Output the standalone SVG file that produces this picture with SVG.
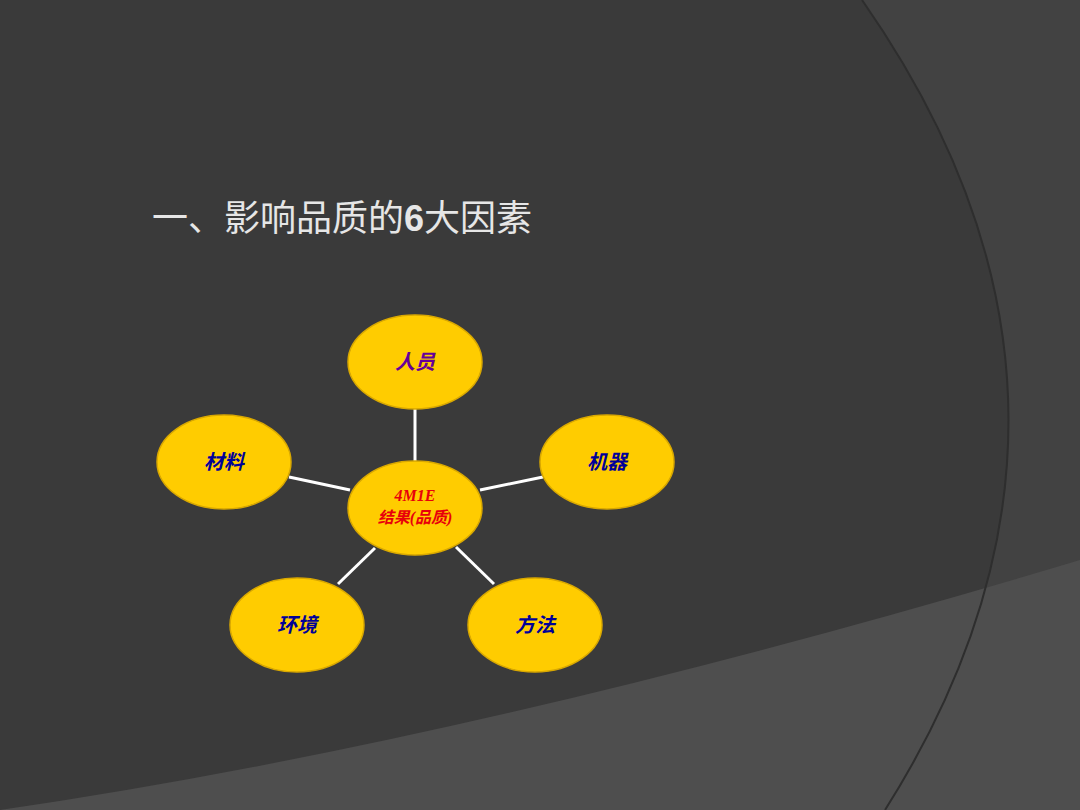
<svg xmlns="http://www.w3.org/2000/svg" width="1080" height="810" viewBox="0 0 1080 810">
<style>
.n{fill:#FFCC00;stroke:#d9a800;stroke-width:1.5}
.t{font-family:"Liberation Serif","Noto Sans CJK SC",serif;font-style:italic;font-weight:bold;font-size:20px;fill:#000099;text-anchor:middle}
.c{stroke:#ffffff;stroke-width:3}
</style>
<rect width="1080" height="810" fill="#3a3a3a"/>
<path d="M862,0 L1080,0 L1080,810 L885,810 Q1143,402 862,0 Z" fill="#424242"/>
<path d="M0,810 Q480,740 1080,560 L1080,810 Z" fill="#4e4e4e"/>
<path d="M862,0 Q1143,402 885,810" fill="none" stroke="#2e2e2e" stroke-width="2"/>
<text x="152" y="231" font-family="Liberation Sans,Noto Sans CJK SC,sans-serif" font-size="36" fill="#e6e6e6">一、影响品质的<tspan font-weight="bold">6</tspan>大因素</text>
<g id="connectors">
<line class="c" x1="415" y1="409" x2="415" y2="461"/>
<line class="c" x1="289" y1="477" x2="350" y2="490"/>
<line class="c" x1="543" y1="477" x2="480" y2="490"/>
<line class="c" x1="338" y1="584" x2="375" y2="548"/>
<line class="c" x1="494" y1="584" x2="456" y2="547"/>
</g>
<g id="n-ren"><ellipse class="n" cx="415" cy="362" rx="67" ry="47"/><text class="t" x="415" y="369" fill="#660099" style="fill:#660099">人员</text></g>
<g id="n-cailiao"><ellipse class="n" cx="224" cy="462" rx="67" ry="47"/><text class="t" x="224" y="469">材料</text></g>
<g id="n-jiqi"><ellipse class="n" cx="607" cy="462" rx="67" ry="47"/><text class="t" x="607" y="469">机器</text></g>
<g id="n-center"><ellipse class="n" cx="415" cy="508" rx="67" ry="47"/><text class="t" x="415" y="501" style="fill:#e8000b;font-size:16px">4M1E</text><text class="t" x="415" y="523" style="fill:#e8000b;font-size:16px">结果(品质)</text></g>
<g id="n-huanjing"><ellipse class="n" cx="297" cy="625" rx="67" ry="47"/><text class="t" x="297" y="632">环境</text></g>
<g id="n-fangfa"><ellipse class="n" cx="535" cy="625" rx="67" ry="47"/><text class="t" x="535" y="632">方法</text></g>
</svg>
